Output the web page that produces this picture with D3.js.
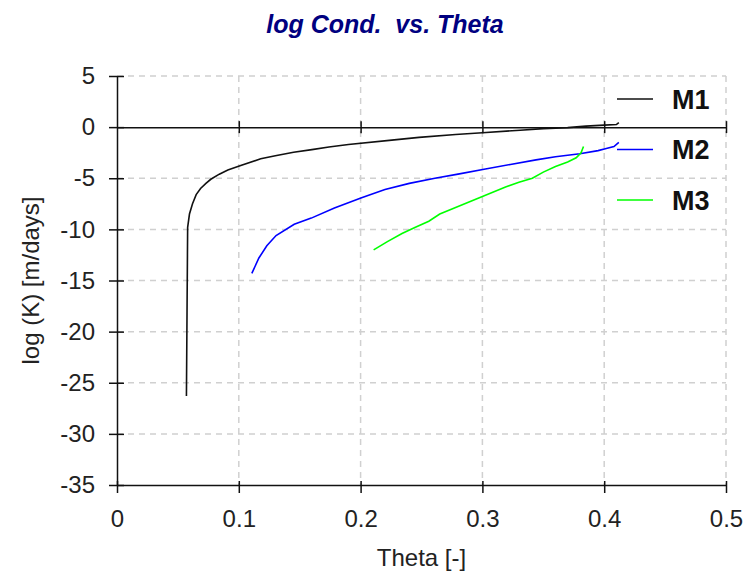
<!DOCTYPE html>
<html>
<head>
<meta charset='utf-8'>
<style>
body { margin: 0; background: #fff; }
text { font-family: 'Liberation Sans', Arial, sans-serif; }
.grid line { stroke: #d0d0d0; stroke-width: 1.5px; stroke-dasharray: 6,5; }
.axis path, .axis line { stroke: #111; stroke-width: 1.5px; }
.line { fill: none; stroke-width: 1.6px; }
</style>
<script src='https://d3js.org/d3.v7.min.js'></script>
</head>
<body>
<svg id='chart1' width='754' height='572'></svg>
<script>
// curve values: [theta, log K]
var m1 = [
  [0.057, -26.3], [0.0575, -18], [0.058, -9.8], [0.0595, -8.5], [0.062, -7.5],
  [0.065, -6.6], [0.0686, -6.0], [0.073, -5.5], [0.077, -5.1], [0.084, -4.6],
  [0.091, -4.2], [0.1016, -3.75], [0.118, -3.1], [0.13, -2.8], [0.145, -2.45],
  [0.16, -2.2], [0.174, -1.95], [0.19, -1.7], [0.2256, -1.27], [0.248, -1.0],
  [0.278, -0.72], [0.30, -0.55], [0.331, -0.3], [0.35, -0.15], [0.37, -0.05],
  [0.385, 0.1], [0.40, 0.2], [0.41, 0.25], [0.412, 0.45]
];
var m2 = [
  [0.1107, -14.3], [0.1165, -12.8], [0.123, -11.6], [0.1306, -10.6], [0.1455, -9.5],
  [0.1595, -8.9], [0.1785, -7.9], [0.2008, -6.9], [0.22, -6.1], [0.24, -5.5],
  [0.261, -5.0], [0.28, -4.6], [0.3025, -4.1], [0.323, -3.65], [0.344, -3.2],
  [0.36, -2.9], [0.38, -2.6], [0.395, -2.3], [0.4017, -2.1], [0.408, -1.9],
  [0.412, -1.5]
];
var m3 = [
  [0.2107, -12.0], [0.222, -11.2], [0.234, -10.4], [0.245, -9.8], [0.256, -9.2],
  [0.265, -8.5], [0.275, -8.0], [0.2975, -6.9], [0.319, -5.85], [0.33, -5.4],
  [0.341, -5.0], [0.35, -4.4], [0.36, -3.85], [0.37, -3.4], [0.377, -3.0],
  [0.381, -2.5], [0.383, -1.9]
];
var seriesNames = ['M1', 'M2', 'M3'];
var seriesColors = ['#111111', '#0000ff', '#00ff00'];
var xTicks = [0, 0.1, 0.2, 0.3, 0.4, 0.5];
var yTicks = [5, 0, -5, -10, -15, -20, -25, -30, -35];

var chart1 = d3.select('svg');
var margin = {top: 76, right: 28, bottom: 87, left: 117};
var width = +chart1.attr('width') - margin.left - margin.right;
var height = +chart1.attr('height') - margin.top - margin.bottom;

var g = chart1.append('g').attr('transform',
    'translate(' + margin.left + ',' + margin.top + ')');

var x = d3.scaleLinear().domain([0, 0.5]).range([0, width]);
var y = d3.scaleLinear().domain([-35, 5]).range([height, 0]);

// dashed grid
g.append('g').attr('class', 'grid').
    selectAll('line').data(xTicks.slice(1)).enter().append('line').
      attr('x1', function(d) { return x(d); }).
      attr('x2', function(d) { return x(d); }).
      attr('y1', 0).attr('y2', height);
g.append('g').attr('class', 'grid').
    selectAll('line').data(yTicks.filter(function(d) { return d !== 0 && d !== -35; })).enter().append('line').
      attr('x1', 0).attr('x2', width).
      attr('y1', function(d) { return y(d); }).
      attr('y2', function(d) { return y(d); });

// bottom axis
var xAxis = g.append('g').
    attr('class', 'axis axis--x').
    attr('transform', 'translate(0,' + height + ')').
    call(d3.axisBottom(x).tickValues(xTicks).tickSize(8).tickSizeOuter(0).
      tickFormat(function(d) { return d === 0 ? '0' : d3.format('.1f')(d); }));
xAxis.selectAll('.tick line').attr('y1', -4);
xAxis.selectAll('text').attr('fill', '#222').attr('font-size', 24).attr('dy', null).attr('y', 42);

// left axis, plain hyphen for the minus sign
var yAxis = g.append('g').
    attr('class', 'axis axis--y').
    call(d3.axisLeft(y).tickValues(yTicks).tickSize(8).tickSizeOuter(0).
      tickFormat(function(d) { return String(d); }));
yAxis.selectAll('.tick line').attr('x2', 7).attr('x1', -8);
yAxis.selectAll('text').attr('fill', '#222').attr('font-size', 24).attr('x', -22);

// zero line with crossing ticks
var zero = g.append('g').
    attr('class', 'axis').
    attr('transform', 'translate(0,' + y(0) + ')').
    call(d3.axisBottom(x).tickValues(xTicks.slice(1)).tickSize(6).tickSizeOuter(0).tickFormat(''));
zero.selectAll('.tick line').attr('y1', -6);

var line1 = d3.line().
    x(function(d) { return x(d[0]); }).
    y(function(d) { return y(d[1]); });

[m1, m2, m3].forEach(function(s, i) {
  g.append('path').
      datum(s).
      attr('class', 'line').
      attr('stroke', seriesColors[i]).
      attr('d', line1);
});

// legend
var legend = chart1.append('g').attr('transform', 'translate(617,99)');
seriesNames.forEach(function(name, i) {
  var row = legend.append('g').attr('transform', 'translate(0,' + (i * 50.5) + ')');
  row.append('line').attr('x1', 0).attr('x2', 36).
      attr('stroke', seriesColors[i]).attr('stroke-width', 1.6);
  row.append('text').attr('x', 55).attr('dy', '0.36em').
      attr('font-size', 27).attr('font-weight', 'bold').attr('fill', '#111').
      text(name);
});

// titles
chart1.append('text').
    attr('x', 385).attr('y', 33).
    attr('text-anchor', 'middle').
    attr('font-size', 25).attr('font-weight', 'bold').attr('font-style', 'italic').
    attr('fill', '#000080').
    attr('xml:space', 'preserve').
    text('log Cond.  vs. Theta');

chart1.append('text').
    attr('x', margin.left + width / 2).attr('y', 566).
    attr('text-anchor', 'middle').
    attr('font-size', 24).attr('fill', '#222').
    text('Theta [-]');

chart1.append('text').
    attr('transform', 'translate(39,' + (margin.top + height / 2) + ') rotate(-90)').
    attr('text-anchor', 'middle').
    attr('font-size', 24).attr('fill', '#222').
    text('log (K) [m/days]');
</script>
</body>
</html>
